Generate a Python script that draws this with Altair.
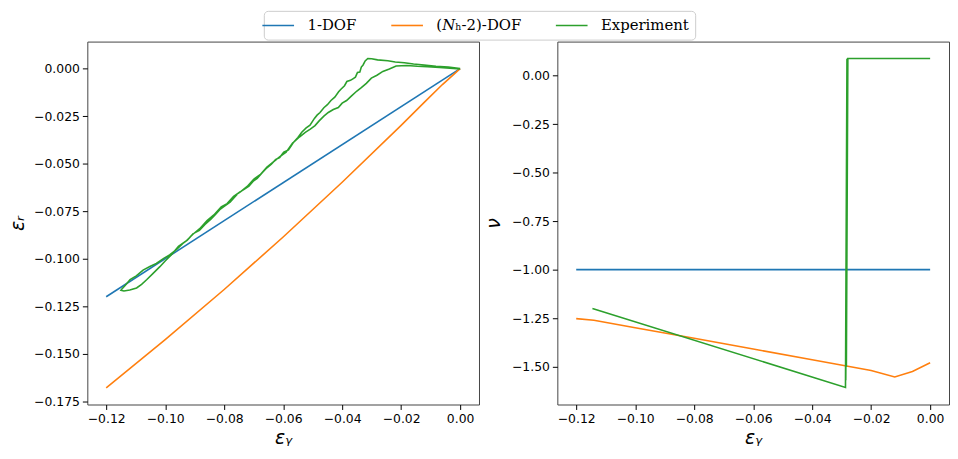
import altair as alt
import pandas as pd

# ---------------- data ----------------
series = ["1-DOF", "(𝑁ₕ-2)-DOF", "Experiment"]
colors = ["#1f77b4", "#ff7f0e", "#2ca02c"]
widths = [1.6, 1.6, 2.0]

x_ticks = [-0.12, -0.10, -0.08, -0.06, -0.04, -0.02, 0.0]
er_ticks = [0.0, -0.025, -0.05, -0.075, -0.1, -0.125, -0.15, -0.175]
nu_ticks = [0.0, -0.25, -0.5, -0.75, -1.0, -1.25, -1.5]

# 1-DOF
one_ey = [-0.12, 0.0]
one_er = [-0.12, 0.0]
one_nu = [-1.0, -1.0]

# (N_h-2)-DOF
nh_ey_left = [-0.12, -0.10, -0.08, -0.06, -0.04, -0.02, -0.012, -0.006, 0.0]
nh_er = [-0.168, -0.1426, -0.1162, -0.0886, -0.0598, -0.0299, -0.0175, -0.0084, 0.0]
nh_ey_right = [-0.12, -0.114, -0.10, -0.08, -0.06, -0.04, -0.02, -0.012, -0.006, 0.0]
nh_nu = [-1.2525, -1.261, -1.299, -1.354, -1.409, -1.464, -1.52, -1.553, -1.525, -1.48]

# Experiment (left panel: loading then unloading)
exp_ey_left = [
    0.0, -0.0040, -0.0082, -0.0122, -0.0158, -0.0189, -0.0220, -0.0245, -0.0280, -0.0300,
    -0.0313, -0.0322, -0.0329, -0.0335, -0.0340, -0.0348, -0.0355, -0.0365, -0.0372, -0.0384,
    -0.0392, -0.0405, -0.0412, -0.0425, -0.0438, -0.0450, -0.0462, -0.0475, -0.0485, -0.0494,
    -0.0509, -0.0522, -0.0537, -0.0550, -0.0566, -0.0582, -0.0598, -0.0612, -0.0626, -0.0640,
    -0.0655, -0.0671, -0.0688, -0.0700, -0.0716, -0.0735, -0.0750, -0.0761, -0.0780, -0.0800,
    -0.0815, -0.0828, -0.0845, -0.0865, -0.0884, -0.0905, -0.0925, -0.0940, -0.0962, -0.0985,
    -0.1005, -0.1030, -0.1052, -0.1075, -0.1098, -0.1119, -0.1135, -0.1146, -0.1150,
    -0.1140, -0.1120, -0.1097, -0.1080, -0.1063, -0.1041, -0.1018, -0.1000, -0.0978, -0.0955,
    -0.0930, -0.0905, -0.0880, -0.0858, -0.0835, -0.0810, -0.0790, -0.0768, -0.0745, -0.0722,
    -0.0700, -0.0678, -0.0655, -0.0632, -0.0610, -0.0590, -0.0568, -0.0545, -0.0525, -0.0508,
    -0.0492, -0.0478, -0.0462, -0.0447, -0.0430, -0.0413, -0.0400, -0.0385, -0.0369, -0.0350,
    -0.0335, -0.0318, -0.0301, -0.0282, -0.0262, -0.0240, -0.0217, -0.0180, -0.0145, -0.0111,
    -0.0070, -0.0035, 0.0,
]
exp_er = [
    0.0, 0.0008, 0.0012, 0.0019, 0.0024, 0.0031, 0.0035, 0.0041, 0.0046, 0.0052,
    0.0053, 0.0040, 0.0019, 0.0008, -0.0018, -0.0020, -0.0045, -0.0055, -0.0062, -0.0068,
    -0.0090, -0.0110, -0.0122, -0.0150, -0.0168, -0.0190, -0.0206, -0.0231, -0.0245, -0.0262,
    -0.0298, -0.0312, -0.0335, -0.0362, -0.0390, -0.0428, -0.0440, -0.0468, -0.0479, -0.0503,
    -0.0522, -0.0548, -0.0578, -0.0590, -0.0618, -0.0638, -0.0652, -0.0670, -0.0702, -0.0725,
    -0.0742, -0.0765, -0.0792, -0.0820, -0.0851, -0.0868, -0.0902, -0.0920, -0.0952, -0.0980,
    -0.0998, -0.1025, -0.1041, -0.1060, -0.1090, -0.1110, -0.1140, -0.1158, -0.1166,
    -0.1170, -0.1165, -0.1154, -0.1135, -0.1111, -0.1077, -0.1042, -0.1012, -0.0978, -0.0935,
    -0.0908, -0.0870, -0.0838, -0.0800, -0.0770, -0.0728, -0.0710, -0.0672, -0.0648, -0.0620,
    -0.0582, -0.0558, -0.0518, -0.0490, -0.0462, -0.0440, -0.0392, -0.0360, -0.0335, -0.0318,
    -0.0300, -0.0275, -0.0250, -0.0231, -0.0215, -0.0205, -0.0182, -0.0168, -0.0145, -0.0118,
    -0.0100, -0.0078, -0.0050, -0.0035, -0.0015, -0.0002, 0.0014, 0.0016, 0.0012, 0.0010,
    0.0006, 0.0002, -0.0002,
]
# Experiment (right panel)
exp_ey_right = [-0.1145, -0.0287, -0.0282, -0.0286, -0.0280, -0.0284, -0.0279, 0.0]
exp_nu = [-1.20, -1.607, 0.086, -1.57, 0.088, -1.50, 0.088, 0.088]


def frame(names_x_y):
    rows = []
    for name, xs, ys in names_x_y:
        for i, (xv, yv) in enumerate(zip(xs, ys)):
            rows.append({"series": name, "x": xv, "y": yv, "i": i})
    return pd.DataFrame(rows)


left_df = frame([
    (series[0], one_ey, one_er),
    (series[1], nh_ey_left, nh_er),
    (series[2], exp_ey_left, exp_er),
])
right_df = frame([
    (series[0], one_ey, one_nu),
    (series[1], nh_ey_right, nh_nu),
    (series[2], exp_ey_right, exp_nu),
])

x_dom = [-0.1264, 0.0064]
er_dom = [-0.1767, 0.0142]
nu_dom = [-1.695, 0.175]

PLOT_W = 395
PLOT_H = 366

legend = alt.Legend(
    orient="none", legendX=178, legendY=-31, direction="horizontal", title=None,
    symbolType="M-2.13,0H2.13", symbolSize=225, symbolStrokeWidth=1.6,
    labelFont="DejaVu Serif", labelFontSize=15, labelColor="#000000",
    padding=6, strokeColor="#cccccc", fillColor="#ffffff", cornerRadius=4,
    columnPadding=31, labelOffset=21, labelLimit=300,
)

color = alt.Color("series:N", scale=alt.Scale(domain=series, range=colors), legend=legend)
stroke_w = alt.StrokeWidth("series:N", scale=alt.Scale(domain=series, range=widths), legend=None)


def x_enc():
    return alt.X(
        "x:Q",
        scale=alt.Scale(domain=x_dom, nice=False, zero=False),
        axis=alt.Axis(values=x_ticks, format=".2f", title="εᵧ", titleY=39,
                      titleBaseline="alphabetic"),
    )


left = alt.Chart(left_df).mark_line().encode(
    x=x_enc(),
    y=alt.Y("y:Q", scale=alt.Scale(domain=er_dom, nice=False, zero=False),
            axis=alt.Axis(values=er_ticks, format=".3f", title="εᵣ",
                          titleX=-70, titleY=PLOT_H / 2, titleBaseline="middle",
                          titleAlign="center")),
    color=color,
    strokeWidth=stroke_w,
    order="i:Q",
).properties(width=PLOT_W, height=PLOT_H)

right = alt.Chart(right_df).mark_line().encode(
    x=x_enc(),
    y=alt.Y("y:Q", scale=alt.Scale(domain=nu_dom, nice=False, zero=False),
            axis=alt.Axis(values=nu_ticks, format=".2f", title="ν",
                          titleX=-64, titleY=PLOT_H / 2, titleBaseline="middle",
                          titleAlign="center")),
    color=color,
    strokeWidth=stroke_w,
    order="i:Q",
).properties(width=PLOT_W, height=PLOT_H)

chart = alt.hconcat(left, right, spacing=79, bounds="flush").properties(
    padding=0,
).configure_view(
    stroke="#444444", strokeWidth=1,
).configure_axis(
    domain=False, grid=False,
    tickColor="#000000", tickSize=5, tickWidth=1,
    labelFont="DejaVu Sans", labelFontSize=12.5, labelColor="#000000", labelPadding=3,
    titleFont="DejaVu Sans", titleFontSize=19, titleFontWeight="normal",
    titleFontStyle="italic", titleColor="#000000",
)

chart.save("out.html", embed_options={"renderer": "svg", "actions": False})
